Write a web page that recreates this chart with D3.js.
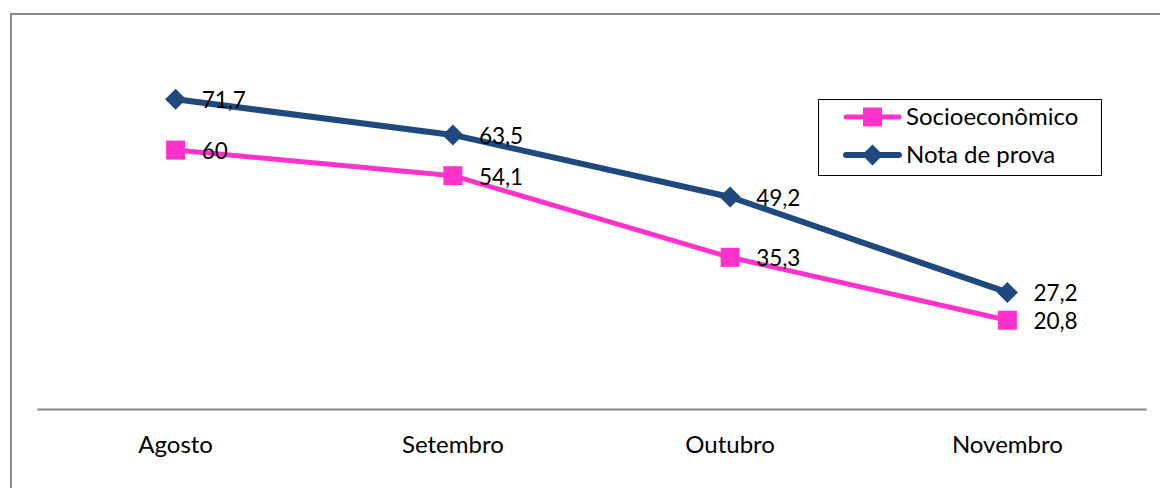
<!DOCTYPE html>
<html><head><meta charset="utf-8">
<script src="https://cdn.jsdelivr.net/npm/d3@7"></script>
<style>html,body{margin:0;padding:0;background:#fff;}svg{display:block;}</style>
</head><body>
<svg id="c" width="1160" height="488"></svg>
<script>
const categories = ["Agosto", "Setembro", "Outubro", "Novembro"];
const socioValues = [60, 54.1, 35.3, 20.8];
const notaValues = [71.7, 63.5, 49.2, 27.2];
const seriesNames = ["Socioeconômico", "Nota de prova"];
const seriesColors = ["#FF33CC", "#1F497D"];

const svg = d3.select("#c");
const font = "Lato, 'Open Sans', sans-serif";

// outer frame
svg.append("rect").attr("x", 11).attr("y", 14).attr("width", 1160).attr("height", 500)
  .attr("fill", "none").attr("stroke", "#8c8c8c").attr("stroke-width", 2);

const x = d3.scaleBand().domain(categories).range([37, 1146]);
const y = d3.scaleLinear().domain([0, 80]).range([410.5, 410.5 - 80 * 4.34]);

// axis
const xAxis = d3.axisBottom(x).tickSize(0).tickPadding(0);
const ax = svg.append("g").attr("transform", "translate(0,409)").call(xAxis);
ax.attr("font-family", font).attr("font-size", 24);
ax.select(".domain").attr("stroke", "#868686").attr("stroke-width", 2);
ax.selectAll("text").attr("fill", "#000").attr("y", 36).attr("dy", "0.35em");

const series = [
  {name: seriesNames[0], values: socioValues, color: seriesColors[0], marker: "square", w: 5},
  {name: seriesNames[1], values: notaValues, color: seriesColors[1], marker: "diamond", w: 6}
];

const cx = d => x(d) + x.bandwidth() / 2;
const line = d3.line().x(d => cx(d.c)).y(d => y(d.v));

function drawMarker(g, type, px, py, color) {
  if (type === "square") {
    g.append("rect").attr("x", px - 9.5).attr("y", py - 9.5).attr("width", 19).attr("height", 19).attr("fill", color);
  } else {
    g.append("path").attr("d", `M${px},${py-10.5}L${px+10.5},${py}L${px},${py+10.5}L${px-10.5},${py}Z`).attr("fill", color);
  }
}

series.forEach(s => {
  const pts = categories.map((c, i) => ({c, v: s.values[i]}));
  svg.append("path").attr("d", line(pts)).attr("fill", "none").attr("stroke", s.color)
    .attr("stroke-width", s.w).attr("stroke-linejoin", "round");
  const g = svg.append("g");
  pts.forEach(p => drawMarker(g, s.marker, cx(p.c), y(p.v), s.color));
  pts.forEach(p => {
    svg.append("text").attr("x", cx(p.c) + 26).attr("y", y(p.v) + 1).attr("dy", "0.35em")
      .attr("font-family", font).attr("font-size", 22.5).attr("fill", "#000")
      .text(String(p.v).replace(".", ","));
  });
});

// legend
const lg = svg.append("g");
lg.append("rect").attr("x", 818.5).attr("y", 99.5).attr("width", 283).attr("height", 76)
  .attr("fill", "#fff").attr("stroke", "#000").attr("stroke-width", 1);
series.forEach((s, i) => {
  const ly = 117 + i * 38;
  lg.append("line").attr("x1", 846).attr("x2", 899).attr("y1", ly).attr("y2", ly)
    .attr("stroke", s.color).attr("stroke-width", s.w).attr("stroke-linecap", "round");
  drawMarker(lg, s.marker, 872.5, ly, s.color);
  lg.append("text").attr("x", 906).attr("y", ly).attr("dy", "0.35em")
    .attr("font-family", font).attr("font-size", 24).attr("fill", "#000").text(s.name);
});
</script>
</body></html>
